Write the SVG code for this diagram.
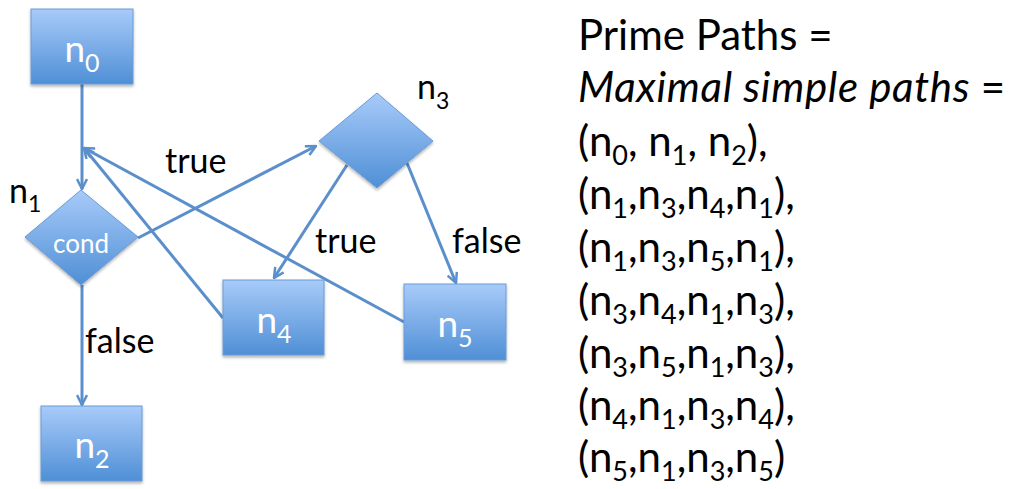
<svg xmlns="http://www.w3.org/2000/svg" width="1010" height="489" viewBox="0 0 1010 489">
<style>
.node{fill:url(#g);stroke:#6a9bd6;stroke-width:1;filter:url(#sh)}
.nt{font-family:Lato,"Open Sans","Liberation Sans",sans-serif;fill:#fff;font-size:37px;text-anchor:middle}
.cd{font-size:26px}
.lb{font-family:Lato,"Open Sans","Liberation Sans",sans-serif;fill:#000;font-size:34px}
.rt{font-family:Lato,"Open Sans","Liberation Sans",sans-serif;fill:#000;font-size:42px}
.s{font-size:27px}
.e{stroke:#5b8fcc;stroke-width:3;fill:none;marker-end:url(#a)}
</style>
<defs>
<linearGradient id="g" x1="0" y1="0" x2="0" y2="1">
<stop offset="0" stop-color="#a8cbf9"/>
<stop offset="1" stop-color="#4f8fd6"/>
</linearGradient>
<filter id="sh" x="-10%" y="-10%" width="130%" height="130%">
<feDropShadow dx="0" dy="2" stdDeviation="1.5" flood-color="#000" flood-opacity="0.3"/>
</filter>
<marker id="a" viewBox="0 0 12 12" refX="11" refY="6" markerWidth="12" markerHeight="12" markerUnits="userSpaceOnUse" orient="auto">
<path d="M1,1 L11,6 L1,11" fill="none" stroke="#5b8fcc" stroke-width="2.5"/>
</marker>
</defs>
<g id="connectors">
<line class="e" x1="82" y1="84" x2="82" y2="189"/>
<line class="e" x1="82" y1="285" x2="82" y2="405"/>
<line class="e" x1="138" y1="238" x2="316" y2="146"/>
<line class="e" x1="347" y1="165" x2="274" y2="278"/>
<line class="e" x1="407" y1="163" x2="456" y2="283"/>
<line class="e" x1="223" y1="318" x2="84" y2="148"/>
<line class="e" x1="404" y1="322" x2="84" y2="148"/>
</g>
<g id="n0">
<rect class="node" x="31" y="9" width="102" height="75"/>
<text class="nt" x="82" y="62">n<tspan dy="10" font-size="25">0</tspan></text>
</g>
<g id="n1">
<polygon class="node" points="81,190 138,237 81,285 25,237"/>
<text class="nt cd" x="81" y="253">cond</text>
<text class="lb" x="9" y="203">n<tspan dy="9" font-size="23">1</tspan></text>
</g>
<g id="n2">
<rect class="node" x="41" y="406" width="101" height="75"/>
<text class="nt" x="92" y="458">n<tspan dy="10" font-size="25">2</tspan></text>
</g>
<g id="n3">
<polygon class="node" points="377,93 433,141 377,188 319,141"/>
<text class="lb" x="417" y="99">n<tspan dy="10" font-size="23">3</tspan></text>
</g>
<g id="n4">
<rect class="node" x="223" y="280" width="101" height="75"/>
<text class="nt" x="274" y="333">n<tspan dy="10" font-size="25">4</tspan></text>
</g>
<g id="n5">
<rect class="node" x="404" y="284" width="102" height="76"/>
<text class="nt" x="455" y="337">n<tspan dy="10" font-size="25">5</tspan></text>
</g>
<g id="labels">
<text class="lb" x="165" y="173">true</text>
<text class="lb" x="315" y="253">true</text>
<text class="lb" x="452" y="253">false</text>
<text class="lb" x="85" y="353">false</text>
</g>
<g id="prime-paths">
<text class="rt" x="578" y="50">Prime Paths =</text>
<text class="rt" x="578" y="102" font-style="italic" textLength="427" lengthAdjust="spacing">Maximal simple paths <tspan font-style="normal">=</tspan></text>
<text class="rt" x="578" y="156">(n<tspan dy="9" class="s">0</tspan><tspan dy="-9">, n</tspan><tspan dy="9" class="s">1</tspan><tspan dy="-9">, n</tspan><tspan dy="9" class="s">2</tspan><tspan dy="-9">),</tspan></text>
<text class="rt" x="578" y="209">(n<tspan dy="9" class="s">1</tspan><tspan dy="-9">,n</tspan><tspan dy="9" class="s">3</tspan><tspan dy="-9">,n</tspan><tspan dy="9" class="s">4</tspan><tspan dy="-9">,n</tspan><tspan dy="9" class="s">1</tspan><tspan dy="-9">),</tspan></text>
<text class="rt" x="578" y="262">(n<tspan dy="9" class="s">1</tspan><tspan dy="-9">,n</tspan><tspan dy="9" class="s">3</tspan><tspan dy="-9">,n</tspan><tspan dy="9" class="s">5</tspan><tspan dy="-9">,n</tspan><tspan dy="9" class="s">1</tspan><tspan dy="-9">),</tspan></text>
<text class="rt" x="578" y="315">(n<tspan dy="9" class="s">3</tspan><tspan dy="-9">,n</tspan><tspan dy="9" class="s">4</tspan><tspan dy="-9">,n</tspan><tspan dy="9" class="s">1</tspan><tspan dy="-9">,n</tspan><tspan dy="9" class="s">3</tspan><tspan dy="-9">),</tspan></text>
<text class="rt" x="578" y="368">(n<tspan dy="9" class="s">3</tspan><tspan dy="-9">,n</tspan><tspan dy="9" class="s">5</tspan><tspan dy="-9">,n</tspan><tspan dy="9" class="s">1</tspan><tspan dy="-9">,n</tspan><tspan dy="9" class="s">3</tspan><tspan dy="-9">),</tspan></text>
<text class="rt" x="578" y="420">(n<tspan dy="9" class="s">4</tspan><tspan dy="-9">,n</tspan><tspan dy="9" class="s">1</tspan><tspan dy="-9">,n</tspan><tspan dy="9" class="s">3</tspan><tspan dy="-9">,n</tspan><tspan dy="9" class="s">4</tspan><tspan dy="-9">),</tspan></text>
<text class="rt" x="578" y="472">(n<tspan dy="9" class="s">5</tspan><tspan dy="-9">,n</tspan><tspan dy="9" class="s">1</tspan><tspan dy="-9">,n</tspan><tspan dy="9" class="s">3</tspan><tspan dy="-9">,n</tspan><tspan dy="9" class="s">5</tspan><tspan dy="-9">)</tspan></text>
</g>
</svg>
